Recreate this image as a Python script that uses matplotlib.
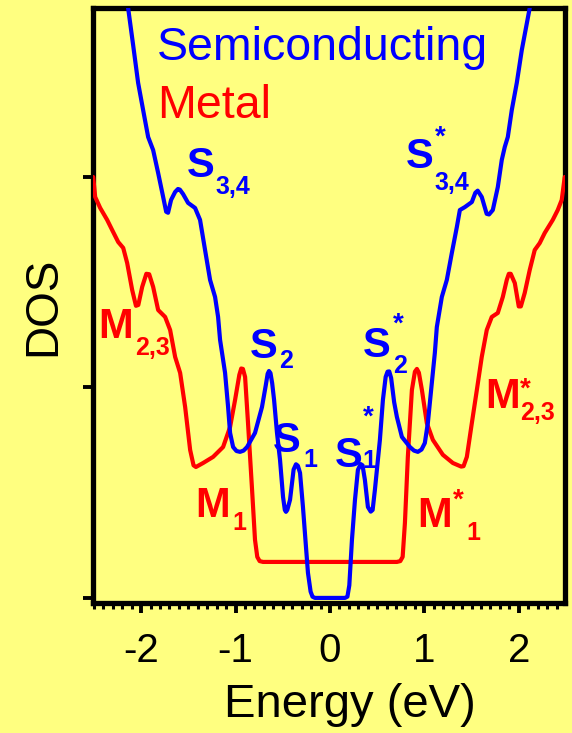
import matplotlib
matplotlib.use("Agg")
import matplotlib.pyplot as plt
from matplotlib.ticker import MultipleLocator

# Density of states of a semiconducting and a metallic nanotube
semi_energy = [-2.138, -2.085, -2.032, -1.979, -1.926, -1.873, -1.820, -1.767, -1.735, -1.715,
               -1.683, -1.640, -1.610, -1.590, -1.556, -1.503, -1.429, -1.376, -1.323, -1.270,
               -1.217, -1.185, -1.164, -1.111, -1.079, -1.058, -1.026, -0.990, -0.952, -0.915,
               -0.878, -0.794, -0.720, -0.680, -0.660, -0.646, -0.630, -0.612, -0.592, -0.561,
               -0.529, -0.497, -0.478, -0.466, -0.452, -0.423, -0.385, -0.360, -0.340, -0.317,
               -0.286, -0.254, -0.233, -0.205, -0.185, -0.159, 0.159, 0.185, 0.205, 0.233,
               0.265, 0.296, 0.325, 0.345, 0.370, 0.402, 0.432, 0.452, 0.476, 0.529,
               0.561, 0.590, 0.610, 0.628, 0.648, 0.680, 0.709, 0.762, 0.847, 0.890,
               0.931, 0.970, 1.005, 1.037, 1.079, 1.111, 1.132, 1.185, 1.238, 1.291,
               1.344, 1.376, 1.429, 1.503, 1.540, 1.565, 1.608, 1.660, 1.685, 1.725,
               1.778, 1.820, 1.852, 1.884, 1.926, 1.979, 2.032, 2.116]
semi_dos = [2.803, 2.627, 2.447, 2.318, 2.190, 2.128, 2.019, 1.905, 1.835, 1.830,
            1.891, 1.929, 1.943, 1.940, 1.919, 1.877, 1.853, 1.796, 1.653, 1.511,
            1.430, 1.335, 1.226, 1.069, 0.907, 0.784, 0.717, 0.698, 0.694, 0.700,
            0.717, 0.784, 0.907, 1.010, 1.065, 1.078, 1.068, 1.020, 0.941, 0.784,
            0.656, 0.480, 0.418, 0.409, 0.418, 0.466, 0.610, 0.635, 0.628, 0.594,
            0.432, 0.242, 0.119, 0.030, 0.006, 0.000, 0.000, 0.006, 0.060, 0.276,
            0.466, 0.608, 0.636, 0.630, 0.561, 0.432, 0.410, 0.418, 0.513, 0.751,
            0.941, 1.050, 1.075, 1.076, 1.045, 0.930, 0.860, 0.765, 0.717, 0.700,
            0.694, 0.705, 0.736, 0.831, 1.021, 1.164, 1.287, 1.430, 1.511, 1.639,
            1.762, 1.843, 1.857, 1.881, 1.925, 1.935, 1.905, 1.825, 1.822, 1.843,
            1.952, 2.081, 2.143, 2.190, 2.318, 2.447, 2.603, 2.803]

metal_energy = [-2.508, -2.487, -2.434, -2.360, -2.307, -2.243, -2.190, -2.148, -2.095, -2.055,
                -2.030, -1.989, -1.945, -1.915, -1.873, -1.820, -1.746, -1.693, -1.640, -1.587,
                -1.534, -1.481, -1.445, -1.420, -1.344, -1.238, -1.132, -1.058, -1.005, -0.960,
                -0.940, -0.922, -0.899, -0.868, -0.825, -0.794, -0.770, -0.745, -0.709, 0.709,
                0.745, 0.770, 0.794, 0.825, 0.868, 0.900, 0.921, 0.942, 0.974, 1.026,
                1.090, 1.196, 1.302, 1.390, 1.415, 1.450, 1.503, 1.556, 1.608, 1.661,
                1.714, 1.778, 1.831, 1.873, 1.895, 1.915, 1.958, 2.000, 2.022, 2.063,
                2.116, 2.169, 2.222, 2.275, 2.360, 2.413, 2.455, 2.487]
metal_dos = [2.000, 1.905, 1.853, 1.796, 1.748, 1.691, 1.663, 1.591, 1.463, 1.388,
             1.392, 1.478, 1.540, 1.538, 1.478, 1.368, 1.335, 1.273, 1.145, 1.069,
             0.907, 0.703, 0.630, 0.622, 0.641, 0.670, 0.717, 0.812, 0.941, 1.060,
             1.090, 1.088, 1.050, 0.831, 0.513, 0.276, 0.195, 0.175, 0.171, 0.171,
             0.175, 0.195, 0.356, 0.670, 0.988, 1.075, 1.088, 1.070, 0.988, 0.831,
             0.751, 0.680, 0.641, 0.624, 0.626, 0.670, 0.831, 0.988, 1.145, 1.273,
             1.335, 1.354, 1.430, 1.511, 1.540, 1.540, 1.496, 1.385, 1.385, 1.449,
             1.558, 1.653, 1.686, 1.734, 1.796, 1.843, 1.891, 2.000]

x_ticks = [-2, -1, 0, 1, 2]
x_tick_labels = ["-2", "-1", "0", "1", "2"]
y_ticks = [0, 1, 2]

BG = "#FFFF80"
BLUE = "#0000FF"
RED = "#FF0000"
FONT = "Liberation Sans"

plt.rcParams["font.family"] = [FONT, "DejaVu Sans"]

fig = plt.figure(figsize=(5.72, 7.33), dpi=100, facecolor=BG)
ax = fig.add_axes([0.1626, 0.1774, 0.8252, 0.8117], facecolor=BG)

ax.plot(metal_energy, metal_dos, color=RED, lw=3.0, solid_joinstyle="round",
        solid_capstyle="round", zorder=3)
ax.plot(semi_energy, semi_dos, color=BLUE, lw=3.0, solid_joinstyle="round",
        solid_capstyle="round", zorder=4)

ax.set_xlim(-2.51, 2.49)
ax.set_ylim(-0.024, 2.803)

ax.set_xticks(x_ticks)
ax.set_xticklabels(x_tick_labels)
ax.xaxis.set_minor_locator(MultipleLocator(0.1))
ax.set_yticks(y_ticks)
ax.set_yticklabels([])

for s in ax.spines.values():
    s.set_linewidth(3.8)
ax.tick_params(axis="x", which="major", direction="out", length=7, width=2.8,
               labelsize=29, pad=14)
ax.tick_params(axis="x", which="minor", direction="out", length=4, width=2.2)
ax.tick_params(axis="y", which="major", direction="out", length=7, width=2.8)

fig.text(350 / 572, 1 - 717 / 733, "Energy (eV)", ha="center", va="baseline",
         fontsize=34)
fig.text(43 / 572, 1 - 306 / 733, "DOS", ha="center", va="center",
         rotation=90, fontsize=33)

ax.text(-1.831, 2.556, "Semiconducting", color=BLUE, fontsize=33.5,
        ha="left", va="baseline")
ax.text(-1.831, 2.280, "Metal", color=RED, fontsize=33.5,
        ha="left", va="baseline")


def band_label(main, main_xy, sub, sub_xy, color, star_xy=None):
    ax.text(*main_xy, main, color=color, fontsize=30, fontweight="bold",
            ha="left", va="baseline", zorder=5)
    ax.text(*sub_xy, sub, color=color, fontsize=18, fontweight="bold",
            ha="left", va="baseline", zorder=5)
    if star_xy is not None:
        ax.text(*star_xy, "*", color=color, fontsize=20, fontweight="bold",
                ha="left", va="top", zorder=5)


band_label("S", (-1.513, 2.000), "3,4", (-1.217, 1.919), BLUE)
band_label("S", (0.804, 2.043), "3,4", (1.111, 1.938), BLUE, (1.111, 2.247))
band_label("M", (-2.455, 1.235), "2,3", (-2.063, 1.154), RED)
band_label("S", (-0.847, 1.140), "2", (-0.540, 1.093), BLUE)
band_label("S", (-0.603, 0.694), "1", (-0.286, 0.622), BLUE)
band_label("M", (-1.429, 0.385), "1", (-1.037, 0.323), RED)
band_label("S", (0.053, 0.622), "1", (0.339, 0.618), BLUE, (0.349, 0.917))
band_label("S", (0.349, 1.145), "2", (0.667, 1.069), BLUE, (0.667, 1.359))
band_label("M", (1.640, 0.903), "2,3", (2.011, 0.846), RED, (2.011, 1.050))
band_label("M", (0.921, 0.337), "1", (1.450, 0.276), RED, (1.302, 0.523))

fig.savefig("out.png", dpi=100, facecolor=BG)
